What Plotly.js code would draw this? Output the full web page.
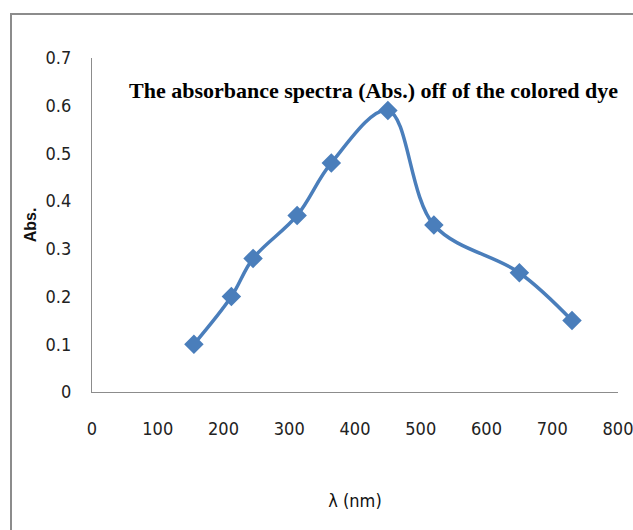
<!DOCTYPE html>
<html>
<head>
<meta charset="utf-8">
<script src="https://cdn.plot.ly/plotly-3.0.1.min.js"></script>
<style>
html,body{margin:0;padding:0;background:#fff;overflow:hidden;}
#chart{width:633px;height:530px;}
</style>
</head>
<body>
<div id="chart"></div>
<script>
var wavelength = [155, 212, 245, 312, 364, 450, 520, 650, 730];
var absorbance = [0.10, 0.20, 0.28, 0.37, 0.48, 0.59, 0.35, 0.25, 0.15];
var xTicks = [0, 100, 200, 300, 400, 500, 600, 700, 800];
var yTicks = [0, 0.1, 0.2, 0.3, 0.4, 0.5, 0.6, 0.7];
var yTickLabels = ['0', '0.1', '0.2', '0.3', '0.4', '0.5', '0.6', '0.7'];

var trace = {
  x: wavelength,
  y: absorbance,
  type: 'scatter',
  mode: 'lines+markers',
  line: {color: '#4a7ebb', width: 3.5, shape: 'spline', smoothing: 1},
  marker: {symbol: 'diamond', size: 15, color: '#4a7ebb'},
  cliponaxis: false,
  hoverinfo: 'none'
};

var narrow = '"DejaVu Sans Condensed", "Liberation Sans Narrow", sans-serif';
var tickFont = {family: narrow, size: 18, color: '#222'};

var layout = {
  width: 633,
  height: 530,
  margin: {l: 92, r: 15, t: 58, b: 138},
  paper_bgcolor: '#ffffff',
  plot_bgcolor: '#ffffff',
  showlegend: false,
  xaxis: {
    range: [0, 800],
    tickvals: xTicks,
    ticktext: xTicks.map(String),
    showgrid: false,
    zeroline: false,
    showline: true,
    linecolor: '#8c8c8c',
    linewidth: 1.2,
    ticks: 'outside',
    ticklen: 20,
    tickcolor: 'rgba(0,0,0,0)',
    tickfont: tickFont,
    ticklabeloverflow: 'allow',
    automargin: false,
    title: {text: 'λ (nm)', font: {family: narrow, size: 18, color: '#111'}, standoff: 56}
  },
  yaxis: {
    range: [0, 0.7],
    tickvals: yTicks,
    ticktext: yTickLabels,
    showgrid: false,
    zeroline: false,
    showline: true,
    linecolor: '#8c8c8c',
    linewidth: 1.2,
    ticks: 'outside',
    ticklen: 16,
    tickcolor: 'rgba(0,0,0,0)',
    tickfont: tickFont,
    automargin: false,
    title: {text: 'Abs.', font: {family: '"Liberation Sans", Arial, sans-serif', size: 16, color: '#111', weight: 'bold'}, standoff: 4}
  },
  annotations: [{
    xref: 'paper', yref: 'paper',
    x: (620 - 92) / 526, y: (392 - 91) / 334,
    xanchor: 'right', yanchor: 'middle',
    text: '<b>The absorbance spectra (Abs.) off of the colored dye</b>',
    showarrow: false,
    font: {family: '"Liberation Serif", "Times New Roman", serif', size: 22, color: '#000'}
  }],
  shapes: [{
    type: 'rect', xref: 'paper', yref: 'paper',
    x0: (11 - 92) / 526, x1: 1.5,
    y0: -1, y1: (392 - 14) / 334,
    line: {color: '#8c8c8c', width: 2},
    layer: 'below'
  }]
};

Plotly.newPlot('chart', [trace], layout, {displayModeBar: false, staticPlot: true});
</script>
</body>
</html>
